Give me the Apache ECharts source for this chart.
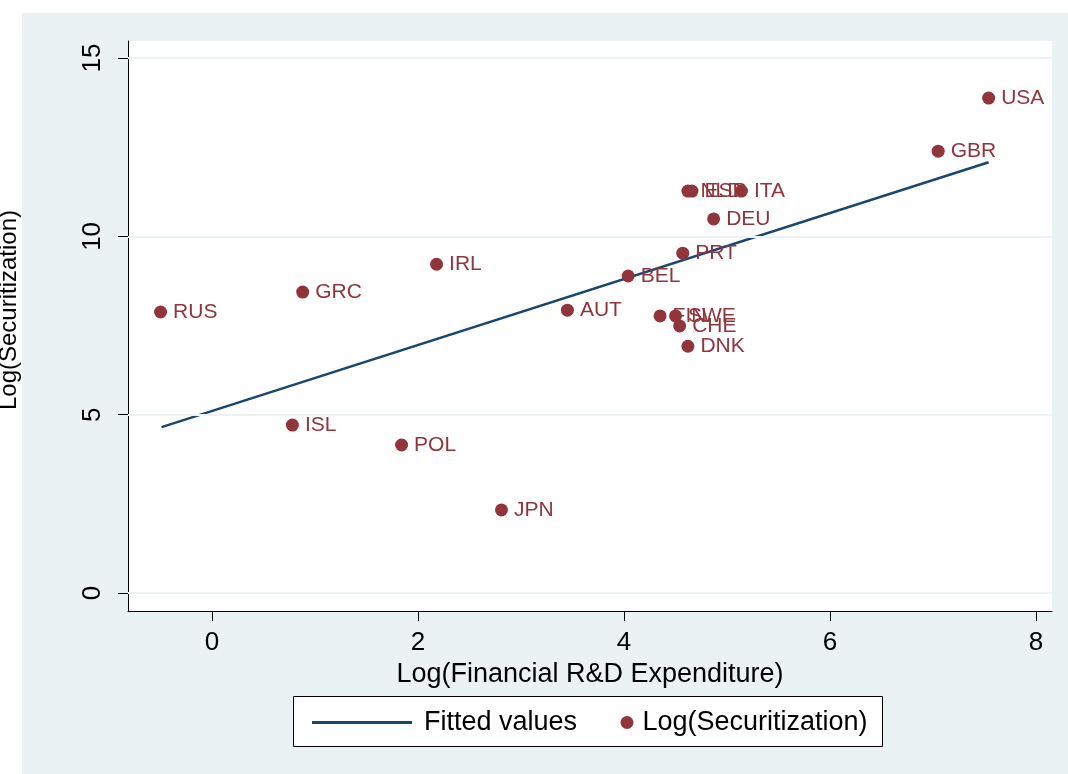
<!DOCTYPE html>
<html>
<head>
<meta charset="utf-8">
<script src="https://cdn.jsdelivr.net/npm/echarts@6/dist/echarts.min.js"></script>
<style>
html,body{margin:0;padding:0;background:#fff;}
#c{width:1068px;height:774px;}
</style>
</head>
<body>
<div id="c"></div>
<script>
const countries = ['USA','GBR','NLD','ESP','ITA','DEU','PRT','BEL','AUT','FIN','SWE','CHE','DNK','IRL','GRC','RUS','ISL','POL','JPN'];
const logRD = [7.54, 7.05, 4.62, 4.66, 5.14, 4.87, 4.57, 4.04, 3.45, 4.35, 4.50, 4.54, 4.62, 2.18, 0.88, -0.50, 0.78, 1.84, 2.81];
const logSec = [13.88, 12.39, 11.27, 11.27, 11.27, 10.49, 9.53, 8.89, 7.93, 7.77, 7.77, 7.49, 6.92, 9.22, 8.44, 7.88, 4.71, 4.15, 2.33];
const fittedX = [-0.49, 7.54];
const fittedY = [4.65, 12.08];
const xTicks = [0, 2, 4, 6, 8];
const yTicks = [0, 5, 10, 15];

const font = '"Liberation Sans", Arial, sans-serif';
const maroon = '#90353b';
const navy = '#1a476f';

const chart = echarts.init(document.getElementById('c'));
chart.setOption({
  backgroundColor: '#ffffff',
  animation: false,
  textStyle: { fontFamily: font },
  graphic: [
    { type: 'rect', z: -10, shape: { x: 22, y: 13, width: 1046, height: 761 }, style: { fill: '#eaf2f3' } },
    { type: 'rect', z: -9, shape: { x: 128, y: 41, width: 924, height: 570 }, style: { fill: '#ffffff' } },
    { type: 'rect', z: 5, shape: { x: 293.5, y: 696.5, width: 589, height: 50 }, style: { fill: '#ffffff', stroke: '#000000', lineWidth: 1 } }
  ],
  grid: { left: 128, right: 16, top: 41, bottom: 163, containLabel: false, outerBoundsMode: 'none' },
  xAxis: {
    type: 'value', min: -0.816, max: 8.155,
    axisLine: { show: true, onZero: false, lineStyle: { color: '#000', width: 1 } },
    axisTick: { show: true, length: 10, customValues: xTicks, lineStyle: { color: '#000' } },
    axisLabel: { customValues: xTicks, fontSize: 26, color: '#000', margin: 19, fontFamily: font },
    splitLine: { show: false },
    name: 'Log(Financial R&D Expenditure)', nameLocation: 'middle', nameGap: 45,
    nameTextStyle: { fontSize: 27, color: '#000', fontFamily: font }
  },
  yAxis: {
    type: 'value', min: -0.505, max: 15.48,
    axisLine: { show: true, onZero: false, lineStyle: { color: '#000', width: 1 } },
    axisTick: { show: true, length: 10, customValues: yTicks, lineStyle: { color: '#000' } },
    axisLabel: { customValues: yTicks, fontSize: 26, color: '#000', rotate: 90, margin: 22, fontFamily: font },
    splitLine: { show: false },
    name: 'Log(Securitization)', nameLocation: 'middle', nameGap: 107,
    nameTextStyle: { fontSize: 24, color: '#000', fontFamily: font, padding: [0, 0, 0, 32] }
  },
  legend: [
    { left: 307, top: 704, itemWidth: 100, itemHeight: 3, z: 10,
      data: [{ name: 'Fitted values', icon: 'rect' }],
      textStyle: { fontSize: 27, color: '#000', fontFamily: font, padding: [0, 0, 0, 7] } },
    { left: 615.5, top: 704, itemWidth: 13, itemHeight: 13, z: 10,
      data: [{ name: 'Log(Securitization)', icon: 'circle' }],
      textStyle: { fontSize: 27, color: '#000', fontFamily: font, padding: [0, 0, 0, 4] } }
  ],
  series: [
    {
      name: 'grid', type: 'line', data: [], silent: true,
      markLine: {
        silent: true, symbol: 'none', label: { show: false },
        lineStyle: { color: '#eaf2f3', width: 2, type: 'solid' },
        data: yTicks.map(v => ({ yAxis: v }))
      }
    },
    {
      name: 'Fitted values', type: 'line', symbol: 'none', showSymbol: false, z: 3,
      lineStyle: { color: navy, width: 2.5 }, itemStyle: { color: navy },
      data: fittedX.map((x, i) => [x, fittedY[i]])
    },
    {
      name: 'Log(Securitization)', type: 'scatter', symbol: 'circle', symbolSize: 13, z: 4,
      itemStyle: { color: maroon, opacity: 1 },
      label: { show: true, position: 'right', distance: 6, color: maroon, fontSize: 21, fontFamily: font,
        formatter: p => countries[p.dataIndex] },
      data: logRD.map((x, i) => [x, logSec[i]])
    }
  ]
});
</script>
</body>
</html>
